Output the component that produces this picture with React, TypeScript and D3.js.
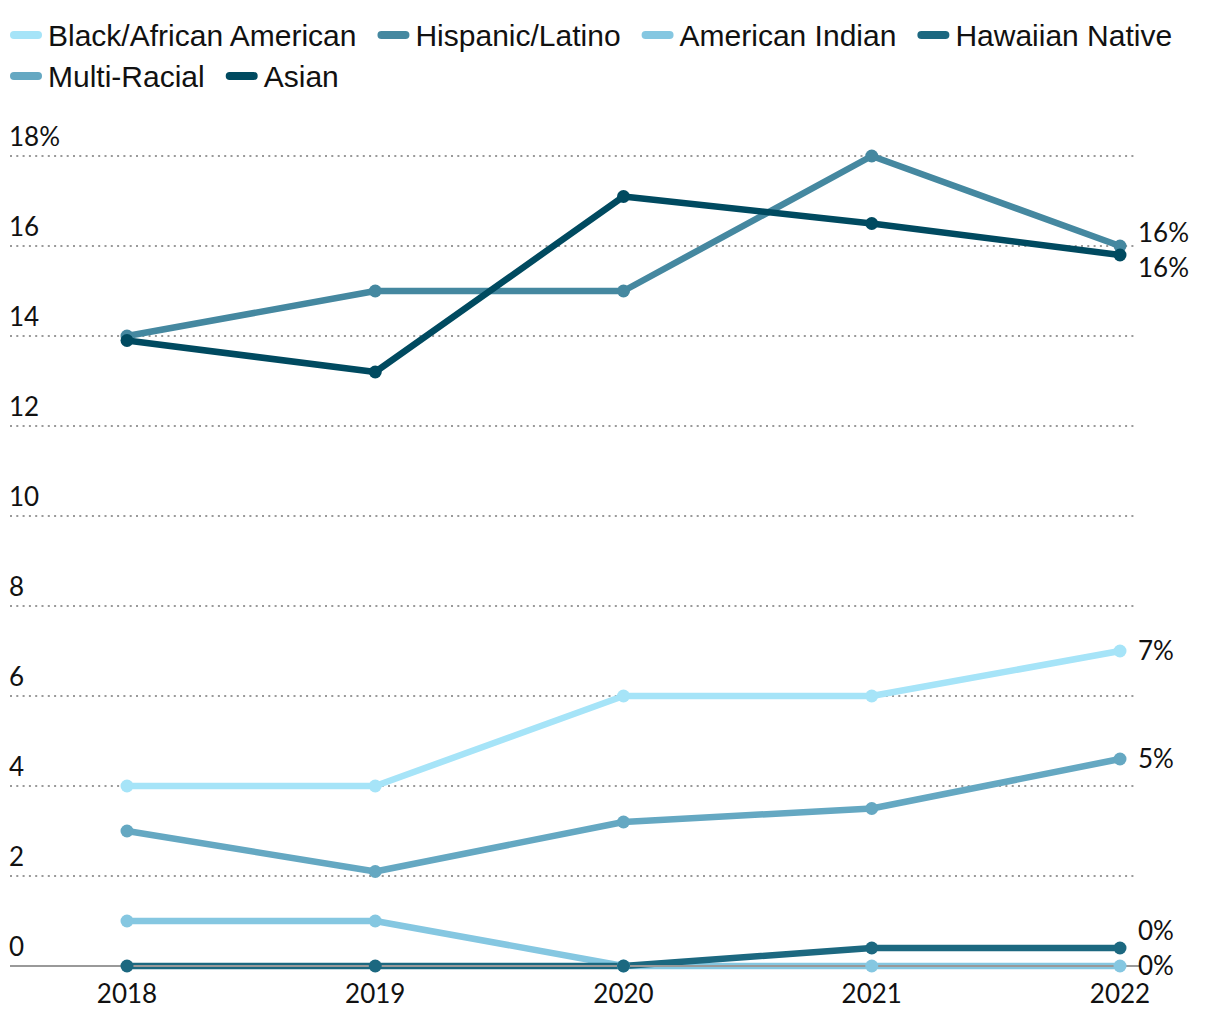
import React, { useEffect, useRef } from "react";
import * as d3 from "d3";

const years = [2018, 2019, 2020, 2021, 2022];
const seriesNames = ["Black/African American", "Hispanic/Latino", "American Indian", "Hawaiian Native", "Multi-Racial", "Asian"];
const seriesColors = ["#a6e4f8", "#4588a0", "#85c7e1", "#1c6880", "#65a8c2", "#004a60"];
const black = [4, 4, 6, 6, 7];
const hispanic = [14, 15, 15, 18, 16];
const americanIndian = [1, 1, 0, 0, 0];
const hawaiian = [0, 0, 0, 0.4, 0.4];
const multiRacial = [3, 2.1, 3.2, 3.5, 4.6];
const asian = [13.9, 13.2, 17.1, 16.5, 15.8];
const endLabels = ["7%", "16%", "0%", "0%", "5%", "16%"];
const yTicks = [0, 2, 4, 6, 8, 10, 12, 14, 16, 18];

const W = 1220, H = 1020;
const legendFont = "'Liberation Sans Narrow', 'Arial Narrow', 'Liberation Sans', sans-serif";
const tickFont = "Lato, 'Noto Sans', sans-serif";

export default function App() {
  const ref = useRef<SVGSVGElement>(null);
  useEffect(() => {
    const svg = d3.select(ref.current);
    svg.selectAll("*").remove();
    const values = [black, hispanic, americanIndian, hawaiian, multiRacial, asian];
    const x = d3.scalePoint<number>().domain(years).range([127, 1120]);
    const y = d3.scaleLinear().domain([0, 18]).range([966, 156]);

    // legend
    const leg = svg.append("g");
    let lx = 10, ly = 35;
    seriesNames.forEach((name, i) => {
      const g = leg.append("g");
      const t = g.append("text").text(name).attr("font-family", legendFont).attr("font-size", 30).attr("fill", "#111").attr("dy", "0.35em");
      const tw = (t.node() as SVGTextElement).getComputedTextLength();
      const itemW = 38 + tw;
      if (lx + itemW > 1200) { lx = 10; ly += 41; }
      g.attr("transform", `translate(${lx},${ly})`);
      g.insert("line", "text").attr("x1", 4).attr("x2", 28).attr("y1", 0).attr("y2", 0)
        .attr("stroke", seriesColors[i]).attr("stroke-width", 8).attr("stroke-linecap", "round");
      t.attr("x", 38);
      lx += itemW + 21;
    });

    // gridlines
    const grid = svg.append("g");
    yTicks.filter(t => t > 0).forEach(t => {
      grid.append("line").attr("x1", 10).attr("x2", 1135).attr("y1", y(t)).attr("y2", y(t))
        .attr("stroke", "#999").attr("stroke-width", 2).attr("stroke-dasharray", "2,4.3");
    });
    yTicks.forEach(t => {
      grid.append("text").attr("x", 9).attr("y", y(t) - 10).text(t === 18 ? "18%" : String(t))
        .attr("font-family", tickFont).attr("font-size", 26).attr("fill", "#111");
    });

    // x labels
    years.forEach(yr => {
      svg.append("text").attr("x", x(yr)!).attr("y", 1003).attr("text-anchor", "middle").text(String(yr))
        .attr("font-family", tickFont).attr("font-size", 26).attr("fill", "#111");
    });

    const line = d3.line<number>().x((_, i) => x(years[i])!).y(d => y(d));
    const linesG = svg.append("g");
    values.forEach((vals, i) => {
      linesG.append("path").attr("d", line(vals)!).attr("fill", "none").attr("stroke", seriesColors[i])
        .attr("stroke-width", 6.5).attr("stroke-linejoin", "round");
    });
    svg.append("line").attr("x1", 10).attr("x2", 1140).attr("y1", y(0)).attr("y2", y(0))
      .attr("stroke", "#999").attr("stroke-width", 2);
    values.forEach((vals, i) => {
      vals.forEach((v, j) => {
        svg.append("circle").attr("cx", x(years[j])!).attr("cy", y(v)).attr("r", 6.5).attr("fill", seriesColors[i]);
      });
    });

    // end labels with collision offsets
    const ends = values.map((vals, i) => ({ i, yy: y(vals[vals.length - 1]) }));
    ends.sort((a, b) => a.yy - b.yy);
    const placed: number[] = ends.map(e => e.yy);
    const gap = 35;
    const maxY = y(0);
    for (let iter = 0; iter < 100; iter++) {
      for (let k = 1; k < placed.length; k++) {
        const d = placed[k] - placed[k - 1];
        if (d < gap) { const s = (gap - d) / 2; placed[k - 1] -= s; placed[k] += s; }
      }
      for (let k = 0; k < placed.length; k++) if (placed[k] > maxY) placed[k] = maxY;
    }
    ends.forEach((e, k) => {
      svg.append("text").attr("x", 1138).attr("y", placed[k]).attr("dy", "0.35em").text(endLabels[e.i])
        .attr("font-family", tickFont).attr("font-size", 26).attr("fill", "#111");
    });
  }, []);
  return <svg ref={ref} width={W} height={H} style={{ display: "block", position: "absolute", left: 0, top: 0 }} />;
}
